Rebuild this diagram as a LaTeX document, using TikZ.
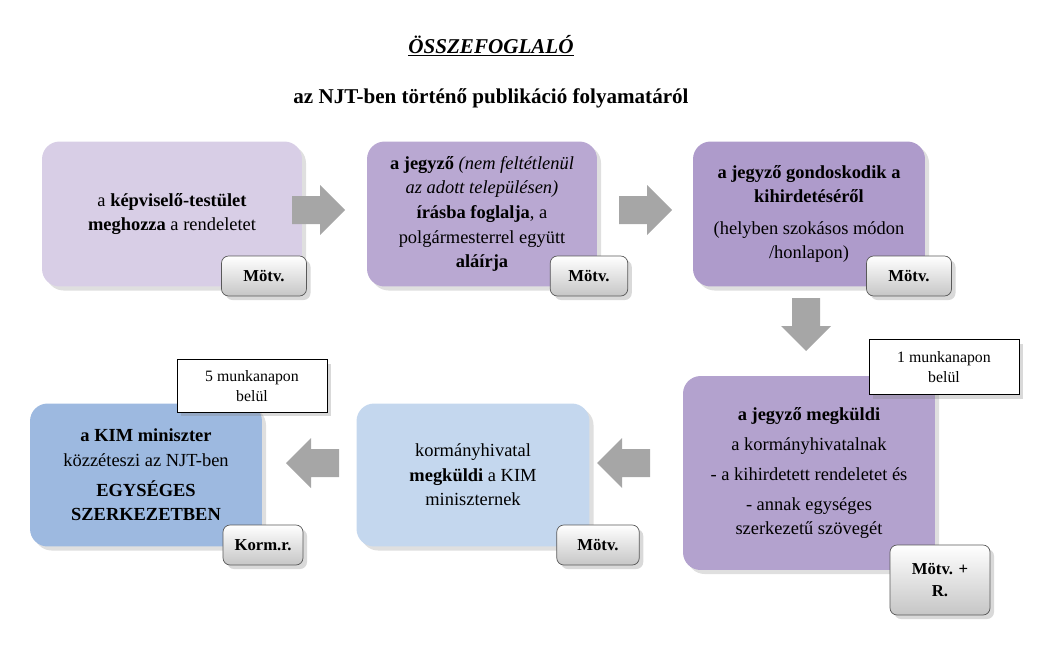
\documentclass[tikz,border=0pt]{standalone}
\usepackage{fontspec}
\setmainfont{Liberation Serif}
\usetikzlibrary{shadows}
\definecolor{boxA}{HTML}{D8CEE6}
\definecolor{boxB}{HTML}{B9A8D2}
\definecolor{boxC}{HTML}{AE9BCB}
\definecolor{boxD}{HTML}{B3A2CE}
\definecolor{boxE}{HTML}{C4D7EE}
\definecolor{boxF}{HTML}{9DB9E0}
\definecolor{arrowgray}{HTML}{A6A6A6}
\tikzset{
  stepbox/.style={rounded corners=10pt, fill=#1, align=center, inner sep=4pt,
    font=\fontsize{10.5}{14}\selectfont, drop shadow={opacity=0.25}},
  tagbox/.style={draw=gray!70!black, rounded corners=4pt, top color=white,
    bottom color=gray!45, align=center, font=\fontsize{9.5}{12}\selectfont\bfseries,
    drop shadow={opacity=0.3}},
  notebox/.style={draw, fill=white, align=center, font=\fontsize{9}{11}\selectfont,
    drop shadow={opacity=0.3}}
}
% block arrow pointing right, centred at origin, 53 x 50 px
\newcommand{\grayarrow}[3]{%
  \fill[arrowgray, shift={(#1,#2)}, rotate=#3]
    (-26,-14) -- (2,-14) -- (2,-25) -- (27,0) -- (2,25) -- (2,14) -- (-26,14) -- cycle;}
\begin{document}
\begin{tikzpicture}[x=0.02cm,y=-0.02cm]
\useasboundingbox (0,0) rectangle (1047,649);
% title
\node[font=\fontsize{12}{14}\selectfont\bfseries\itshape] (title) at (491,46) {\underline{ÖSSZEFOGLALÓ}};
\node[font=\fontsize{12}{14}\selectfont\bfseries] (subtitle) at (491,98) {az NJT-ben történő publikáció folyamatáról};
% boxes
\node[stepbox=boxA, minimum width=5.2cm, minimum height=2.9cm] (b1) at (172,214) {a \textbf{képviselő-testület}\\\textbf{meghozza} a rendeletet};
\node[stepbox=boxB, minimum width=4.6cm, minimum height=2.9cm] (b2) at (482,214) {\textbf{a jegyző} \textit{(nem feltétlenül}\\\textit{az adott településen)}\\\textbf{írásba foglalja}, a\\polgármesterrel együtt\\\textbf{aláírja}};
\node[stepbox=boxC, minimum width=4.64cm, minimum height=2.9cm] (b3) at (809,214) {\textbf{a jegyző gondoskodik a}\\\textbf{kihirdetéséről}\\[4pt](helyben szokásos módon\\/honlapon)};
\node[stepbox=boxD, minimum width=5.04cm, minimum height=3.88cm] (b4) at (809,473) {\textbf{a jegyző megküldi}\\[3pt]a kormányhivatalnak\\[3pt]- a kihirdetett rendeletet és\\[3pt]- annak egységes\\szerkezetű szövegét};
\node[stepbox=boxE, minimum width=4.66cm, minimum height=2.86cm] (b5) at (473,475) {kormányhivatal\\\textbf{megküldi} a KIM\\miniszternek};
\node[stepbox=boxF, minimum width=4.64cm, minimum height=2.86cm] (b6) at (146,475) {\textbf{a KIM miniszter}\\közzéteszi az NJT-ben\\[3pt]\textbf{EGYSÉGES}\\\textbf{SZERKEZETBEN}};
% tags
\node[tagbox, minimum width=1.7cm, minimum height=0.8cm] (t1) at (264,276) {Mötv.};
\node[tagbox, minimum width=1.55cm, minimum height=0.8cm] (t2) at (589,276) {Mötv.};
\node[tagbox, minimum width=1.7cm, minimum height=0.8cm] (t3) at (909,276) {Mötv.};
\node[tagbox, minimum width=2.0cm, minimum height=1.4cm] (t4) at (940,580) {Mötv. +\\R.};
\node[tagbox, minimum width=1.65cm, minimum height=0.8cm] (t5) at (598,545) {Mötv.};
\node[tagbox, minimum width=1.6cm, minimum height=0.8cm] (t6) at (263,545) {Korm.r.};
% arrows
\grayarrow{318}{210}{0}
\grayarrow{645}{210}{0}
\grayarrow{806}{324}{-90}
\grayarrow{624}{463}{180}
\grayarrow{313}{463}{180}
% notes
\node[notebox, minimum width=3.0cm, minimum height=1.1cm] (n1) at (944,367) {1 munkanapon\\belül};
\node[notebox, minimum width=3.0cm, minimum height=1.05cm] (n2) at (252,386) {5 munkanapon\\belül};
\end{tikzpicture}
\end{document}
